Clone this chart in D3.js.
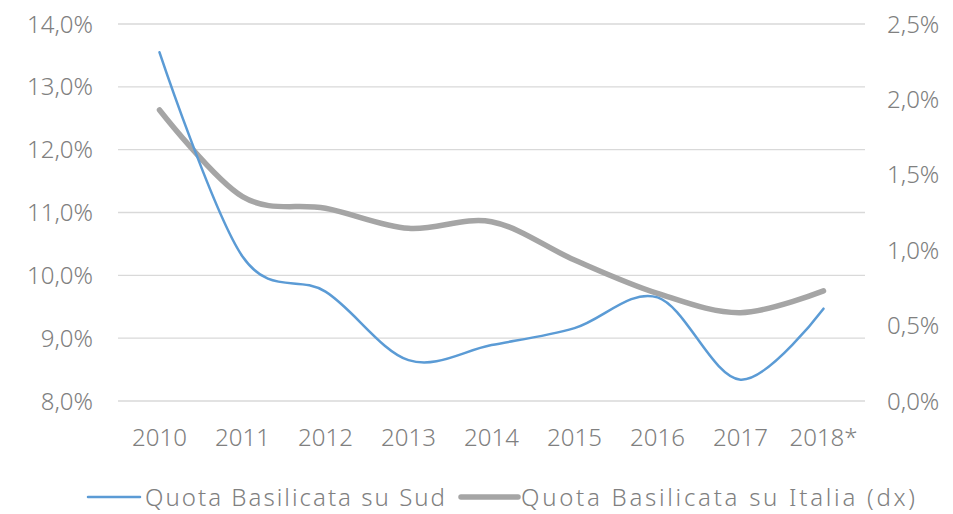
<!DOCTYPE html>
<html>
<head>
<meta charset="utf-8">
<script src="https://cdn.jsdelivr.net/npm/d3@7"></script>
<style>
  body { margin: 0; background: #fff; }
  text { font-family: "Noto Sans", "DejaVu Sans", sans-serif; font-weight: 300; fill: #808080; }
</style>
</head>
<body>
<svg id="chart"></svg>
<script>
const years = ["2010", "2011", "2012", "2013", "2014", "2015", "2016", "2017", "2018*"];
const sud = [13.55, 10.30, 9.74, 8.65, 8.89, 9.16, 9.65, 8.34, 9.47];
const italia = [1.93, 1.355, 1.278, 1.145, 1.189, 0.935, 0.714, 0.586, 0.73];
const leftTicks = [8, 9, 10, 11, 12, 13, 14];
const rightTicks = [0, 0.5, 1, 1.5, 2, 2.5];
const seriesNames = ["Quota Basilicata su Sud", "Quota Basilicata su Italia (dx)"];

const w = 953, h = 514;
const margin = { top: 24, right: 88, bottom: 113, left: 118 };

const svg = d3.select("#chart").attr("width", w).attr("height", h);

const x = d3.scaleBand().domain(years).range([margin.left, w - margin.right]);
const yL = d3.scaleLinear().domain([8, 14]).range([h - margin.bottom, margin.top]);
const yR = d3.scaleLinear().domain([0, 2.5]).range([h - margin.bottom, margin.top]);

const fmt = d => d.toFixed(1).replace(".", ",") + "%";

// gridlines
svg.append("g")
    .selectAll("line")
    .data(leftTicks)
    .enter().append("line")
    .attr("x1", margin.left)
    .attr("x2", w - margin.right)
    .attr("y1", d => yL(d))
    .attr("y2", d => yL(d))
    .attr("stroke", "#d9d9d9")
    .attr("stroke-width", 1.3)

// left axis labels
svg.append("g")
    .selectAll("text")
    .data(leftTicks)
    .enter().append("text")
    .attr("x", 93)
    .attr("y", d => yL(d))
    .attr("dy", "0.36em")
    .attr("text-anchor", "end")
    .style("font-size", "24px")
    .text(fmt)

// right axis labels
svg.append("g")
    .selectAll("text")
    .data(rightTicks)
    .enter().append("text")
    .attr("x", 887)
    .attr("y", d => yR(d))
    .attr("dy", "0.36em")
    .style("font-size", "24px")
    .text(fmt)

// x labels
svg.append("g")
    .selectAll("text")
    .data(years)
    .enter().append("text")
    .attr("x", d => x(d) + x.bandwidth() / 2)
    .attr("y", 446)
    .attr("text-anchor", "middle")
    .style("font-size", "24px")
    .text(d => d)

const cx = (d, i) => x(years[i]) + x.bandwidth() / 2;

svg.append("path")
    .datum(italia)
    .attr("fill", "none")
    .attr("stroke", "#a5a5a5")
    .attr("stroke-width", 5.5)
    .attr("stroke-linecap", "round")
    .attr("d", d3.line().x(cx).y(d => yR(d)).curve(d3.curveCatmullRom.alpha(0)))

svg.append("path")
    .datum(sud)
    .attr("fill", "none")
    .attr("stroke", "#5b9bd5")
    .attr("stroke-width", 2.5)
    .attr("stroke-linecap", "round")
    .attr("d", d3.line().x(cx).y(d => yL(d)).curve(d3.curveCatmullRom.alpha(0)))

// legend
const legend = [
    { name: seriesNames[0], color: "#5b9bd5", sw: 2.5, x1: 88, x2: 140, tx: 145, len: 300 },
    { name: seriesNames[1], color: "#a5a5a5", sw: 5.5, x1: 461, x2: 518, tx: 521, len: 394 }
];
const lg = svg.append("g").selectAll("g").data(legend).enter().append("g");
lg.append("line")
    .attr("x1", d => d.x1).attr("x2", d => d.x2)
    .attr("y1", 497).attr("y2", 497)
    .attr("stroke", d => d.color)
    .attr("stroke-width", d => d.sw)
    .attr("stroke-linecap", "round")
lg.append("text")
    .attr("x", d => d.tx)
    .attr("y", 497)
    .attr("dy", "0.36em")
    .attr("textLength", d => d.len)
    .attr("lengthAdjust", "spacing")
    .style("font-size", "24px")
    .text(d => d.name)
</script>
</body>
</html>
